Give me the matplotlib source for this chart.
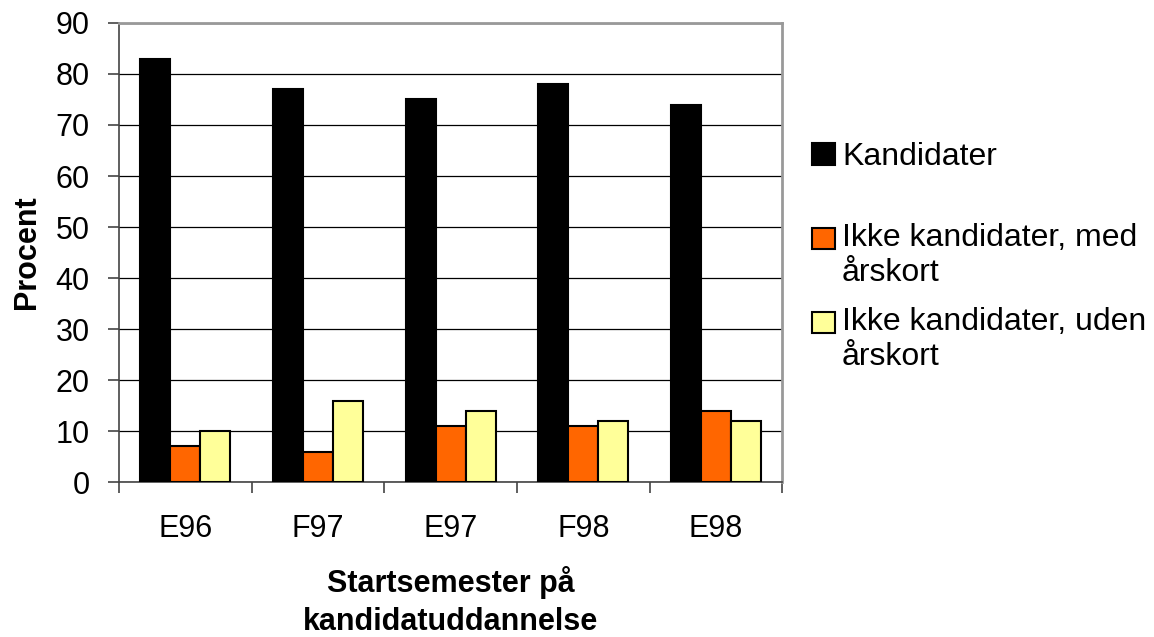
import matplotlib.pyplot as plt
import numpy as np
from matplotlib.legend_handler import HandlerPatch
from matplotlib.patches import Rectangle

plt.rcParams["font.family"] = ["Liberation Sans", "DejaVu Sans"]

semesters = ["E96", "F97", "E97", "F98", "E98"]
kandidater = [83, 77, 75, 78, 74]
med_aarskort = [7, 6, 11, 11, 14]
uden_aarskort = [10, 16, 14, 12, 12]

series_labels = [
    "Kandidater",
    "Ikke kandidater, med\nårskort",
    "Ikke kandidater, uden\nårskort",
]
colors = ["#000000", "#FF6600", "#FFFF99"]

LEG_FS = 23
LEG_LS = 1.22


def first_line_patch(legend, orig_handle, xdescent, ydescent, width, height,
                     fontsize):
    # put the square next to the first line of a two-line label
    shift = 0.5 * LEG_LS * 0.89 * fontsize
    return Rectangle((-xdescent, -ydescent + shift), width, height)


fig = plt.figure(figsize=(11.54, 6.37), dpi=100)
ax = fig.add_axes([0.103, 0.243, 0.575, 0.721])

x = np.arange(len(semesters))
w = 0.226
bars = []
for i, (vals, col, lab) in enumerate(
    zip([kandidater, med_aarskort, uden_aarskort], colors, series_labels)
):
    b = ax.bar(x + (i - 1) * w, vals, w, color=col, edgecolor="black",
               linewidth=1.5, label=lab, zorder=3)
    bars.append(b)

ax.set_xlim(-0.5, len(semesters) - 0.5)
ax.set_ylim(0, 90)
ax.set_yticks(np.arange(0, 91, 10))
ax.yaxis.grid(True, color="black", linewidth=0.9, zorder=0)
ax.set_axisbelow(True)

ax.set_xticks(x)
ax.set_xticklabels(semesters)
ax.set_xticks(np.arange(-0.5, len(semesters)), minor=True)
ax.tick_params(axis="x", which="major", length=0, pad=23, labelsize=22)
ax.tick_params(axis="x", which="minor", length=8, width=1.2, direction="out",
               color="#444444")
ax.tick_params(axis="y", length=8, width=1.2, direction="out", labelsize=22,
               pad=13, color="#444444")

for side in ["top", "right"]:
    ax.spines[side].set_color("#999999")
    ax.spines[side].set_linewidth(2)
for side in ["left", "bottom"]:
    ax.spines[side].set_color("#444444")
    ax.spines[side].set_linewidth(1.2)

ax.set_ylabel("Procent", fontsize=22, fontweight="bold", labelpad=10)
ax.set_xlabel("Startsemester på\nkandidatuddannelse", fontsize=22,
              fontweight="bold", labelpad=16, linespacing=1.31)

leg_kw = dict(frameon=False, fontsize=LEG_FS, handlelength=0.72,
              handleheight=0.66, handletextpad=0.22, borderpad=0,
              borderaxespad=0)
leg1 = fig.legend([bars[0].patches[0]], [series_labels[0]], loc="center left",
                  bbox_to_anchor=(0.7036, 1 - 157 / 637), **leg_kw)
leg2 = fig.legend([b.patches[0] for b in bars[1:]], series_labels[1:],
                  loc="upper left", bbox_to_anchor=(0.7036, 1 - 223 / 637),
                  labelspacing=0.6,
                  handler_map={Rectangle: HandlerPatch(patch_func=first_line_patch)},
                  **leg_kw)
for t in leg2.get_texts():
    t.set_linespacing(LEG_LS)
for leg in (leg1, leg2):
    for p in leg.get_patches():
        p.set_linewidth(1.5)

fig.savefig("out.png", dpi=100)
